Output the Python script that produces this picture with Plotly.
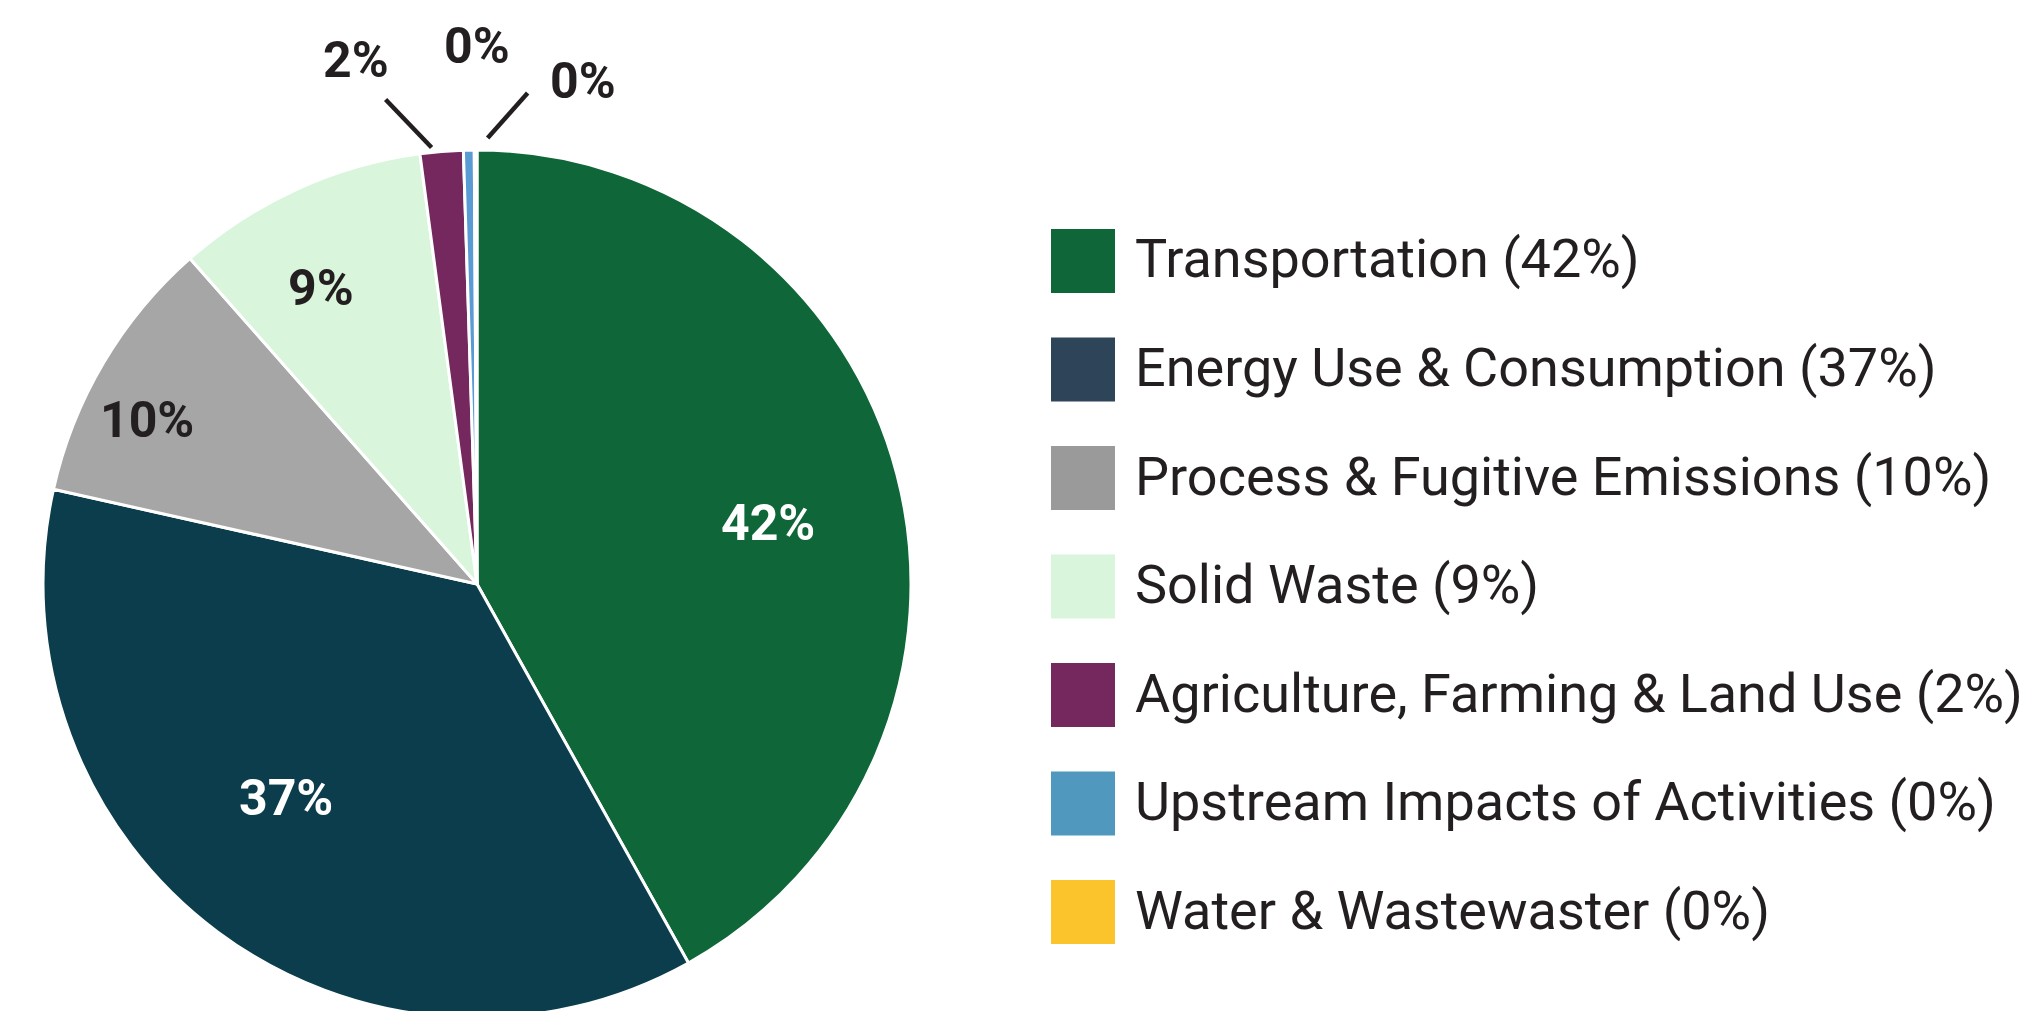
import math
import plotly.graph_objects as go

# ---- data ----
categories = [
    "Transportation",
    "Energy Use & Consumption",
    "Process & Fugitive Emissions",
    "Solid Waste",
    "Agriculture, Farming & Land Use",
    "Upstream Impacts of Activities",
    "Water & Wastewaster",
]
values = [41.9, 36.6, 10.0, 9.4, 1.6, 0.4, 0.1]
legend_pct = ["42%", "37%", "10%", "9%", "2%", "0%", "0%"]

# ---- styles ----
slice_colors = ["#0f6638", "#0b3d4c", "#a6a6a6", "#d9f5dc", "#74285e", "#5b9bd5", "#fcc42c"]
legend_colors = ["#0f6638", "#2e4559", "#9a9a9a", "#d9f5dc", "#74285e", "#5098bd", "#fcc42c"]
DARK = "#231f20"
label_colors = ["white", "white", DARK, DARK, DARK, DARK, DARK]
# inside labels: radial position (fraction of radius) and angular nudge (deg)
label_radius = [0.685, 0.66, 0.85, 0.77, None, None, None]
label_dtheta = [2.8, 5.0, -4.2, -3.3, 0, 0, 0]
# outside labels: text offset and leader-line (start, end) offsets from the slice edge, px
text_offset = [None, None, None, None, (-86, -91), (8, -104), (107, -69)]
line_offset = [None, None, None, None, ((-10, -4), (-56, -52)), None, ((12, -12), (52, -57))]

W, H = 2041, 1011
OFF = 8  # page offset of the plot div (body margin)
FONT = "Roboto"
LABEL_SIZE = 50

# pie domain in screen pixels
dom_x = (43, 911)
dom_y = (150, 1018)  # top, bottom (px from top of the page)


def px(x, y):
    """screen px -> paper coords"""
    return (x - OFF) / W, 1 - (y - OFF) / H


fig = go.Figure()
dx0, dy0 = px(dom_x[0], dom_y[1])
dx1, dy1 = px(dom_x[1], dom_y[0])
fig.add_trace(go.Pie(
    labels=categories,
    values=values,
    sort=False,
    direction="clockwise",
    rotation=0,
    marker=dict(colors=slice_colors, line=dict(color="white", width=3)),
    textinfo="none",
    domain=dict(x=[dx0, dx1], y=[max(dy0, 0), dy1]),
    showlegend=False,
    hoverinfo="label+percent",
))

# geometry of the pie as plotly lays it out (domain centred, radius = half the shorter side)
cx = (dom_x[0] + dom_x[1]) / 2
cy = (dom_y[0] + dom_y[1]) / 2
R = min(dom_x[1] - dom_x[0], dom_y[1] - dom_y[0]) / 2

total = sum(values)
annotations, shapes = [], []
cum = 0.0
for i, v in enumerate(values):
    a0 = cum / total * 360
    cum += v
    a1 = cum / total * 360
    mid = (a0 + a1) / 2
    pct_txt = f"{round(v / total * 100):d}%"
    if label_radius[i] is not None:
        th = math.radians(mid + label_dtheta[i])
        r = label_radius[i] * R
        x, y = px(cx + r * math.sin(th), cy - r * math.cos(th))
        annotations.append(dict(
            xref="paper", yref="paper", x=x, y=y, xanchor="center", yanchor="middle",
            text=pct_txt, showarrow=False,
            font=dict(family=FONT, size=LABEL_SIZE, color=label_colors[i], weight="bold"),
        ))
    else:
        th = math.radians(mid)
        ex, ey = cx + R * math.sin(th), cy - R * math.cos(th)
        tdx, tdy = text_offset[i]
        x, y = px(ex + tdx, ey + tdy)
        annotations.append(dict(
            xref="paper", yref="paper", x=x, y=y, xanchor="center", yanchor="middle",
            text=pct_txt, showarrow=False,
            font=dict(family=FONT, size=LABEL_SIZE, color=label_colors[i], weight="bold"),
        ))
        if line_offset[i] is not None:
            (sx, sy), (tx, ty) = line_offset[i]
            x0, y0 = px(ex + sx, ey + sy)
            x1, y1 = px(ex + tx, ey + ty)
            shapes.append(dict(
                type="line", xref="paper", yref="paper",
                x0=x0, y0=y0, x1=x1, y1=y1,
                line=dict(color=DARK, width=4.5),
            ))

# ---- custom legend (large square swatches), screen px ----
sw_left, sw_size, first_top, step = 1051, 64, 229, 108.5
text_left = 1133
for i, (cat, pct, col) in enumerate(zip(categories, legend_pct, legend_colors)):
    top = first_top + i * step
    x0, y0 = px(sw_left, top + sw_size)
    x1, y1 = px(sw_left + sw_size, top)
    shapes.append(dict(
        type="rect", xref="paper", yref="paper",
        x0=x0, x1=x1, y0=y0, y1=y1,
        fillcolor=col, line=dict(width=0),
    ))
    tx, ty = px(text_left, top + sw_size / 2 - 2)
    annotations.append(dict(
        xref="paper", yref="paper", x=tx, y=ty,
        xanchor="left", yanchor="middle",
        text=f"{cat} ({pct})", showarrow=False,
        font=dict(family=FONT, size=54, color=DARK),
    ))

fig.update_layout(
    width=W, height=H,
    margin=dict(l=0, r=0, t=0, b=0, pad=0, autoexpand=False),
    paper_bgcolor="white",
    plot_bgcolor="white",
    shapes=shapes,
    annotations=annotations,
    font=dict(family=FONT, color=DARK),
)

fig.write_html("out.html", config=dict(displayModeBar=False))
